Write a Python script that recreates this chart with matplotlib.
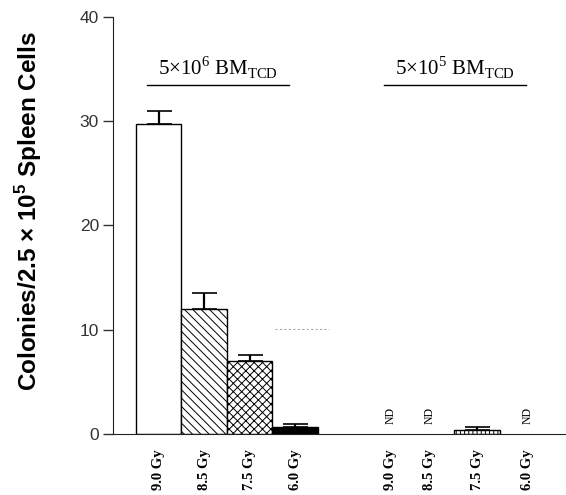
import numpy as np
import matplotlib
matplotlib.use("Agg")
import matplotlib.pyplot as plt

plt.rcParams['mathtext.fontset'] = 'custom'
plt.rcParams['mathtext.rm'] = 'Liberation Serif'
plt.rcParams['mathtext.bf'] = 'Liberation Sans:bold'
plt.rcParams['hatch.linewidth'] = 0.7

# data
doses = ["9.0 Gy", "8.5 Gy", "7.5 Gy", "6.0 Gy"]
high_vals = [29.7, 12.0, 7.0, 0.65]
high_err = [1.3, 1.5, 0.6, 0.35]
low_vals = [0.0, 0.0, 0.4, 0.0]
low_err = [0.0, 0.0, 0.3, 0.0]
low_nd = [True, True, False, True]
group_labels = [r"5×10$^{\mathrm{6}}$ BM$_{\mathrm{TCD}}$",
                r"5×10$^{\mathrm{5}}$ BM$_{\mathrm{TCD}}$"]

x_high = np.arange(4)
x_low = np.array([5.1, 5.95, 7.0, 8.1])
hatches = [None, "\\\\\\\\", "xxxx", None]
faces = ["white", "white", "white", "black"]

fig = plt.figure(figsize=(5.66, 4.95), dpi=100)
ax = fig.add_axes([0.1996, 0.1232, 0.8004, 0.8425])

for xi, v, e, h, fc in zip(x_high, high_vals, high_err, hatches, faces):
    ax.bar(xi, v, width=1.0, color=fc, edgecolor="black", linewidth=1.0, hatch=h)
    ax.errorbar(xi, v, yerr=[[0], [e]], color="black", capsize=9, elinewidth=1.6,
                capthick=1.2)

for xi, v, e, nd in zip(x_low, low_vals, low_err, low_nd):
    if nd:
        ax.text(xi, 1.8, "ND", rotation=90, ha="center", va="center",
                family="Liberation Serif", fontsize=8.5)
    else:
        ax.bar(xi, v, width=1.0, color="white", edgecolor="black", linewidth=1.0,
               hatch="||||")
        ax.errorbar(xi, v, yerr=[[0], [e]], color="black", capsize=9,
                    elinewidth=1.6, capthick=1.2)

# group headers
for (x0, x1), lab in zip([(-0.26, 2.87), (4.95, 8.07)], group_labels):
    ax.plot([x0, x1], [33.5, 33.5], color="black", linewidth=1.0, clip_on=False)
    ax.text((x0 + x1) / 2, 33.9, lab, ha="center", va="bottom",
            family="Liberation Serif", fontsize=15)

# faint scan artifact
ax.plot([2.55, 3.75], [10.1, 10.1], color="#aaaaaa", linewidth=0.8,
        linestyle=(0, (2, 2)))

ax.set_xlim(-1.0, 8.95)
ax.set_ylim(0, 40)
ax.set_yticks([0, 10, 20, 30, 40])
ax.set_xticks(np.concatenate([x_high, x_low]))
ax.set_xticklabels(doses + doses, rotation=90, family="Liberation Serif",
                   fontsize=10.5, fontweight="bold")
ax.tick_params(axis="x", length=0, pad=11)
ax.tick_params(axis="y", length=7, width=1.0, labelsize=12.5, colors="#333333",
               labelcolor="#333333", pad=3)
for lab in ax.get_yticklabels():
    lab.set_family("Liberation Sans")
ax.spines["top"].set_visible(False)
ax.spines["right"].set_visible(False)
ax.spines["left"].set_color("#222222")
ax.spines["bottom"].set_color("#222222")

ax.set_ylabel(r"Colonies/2.5 × 10$^{\mathbf{5}}$ Spleen Cells", family="Liberation Sans",
              fontweight="bold", fontsize=17.5)
ax.yaxis.set_label_coords(-0.152, 0.535)

fig.savefig("out.png", dpi=100)
